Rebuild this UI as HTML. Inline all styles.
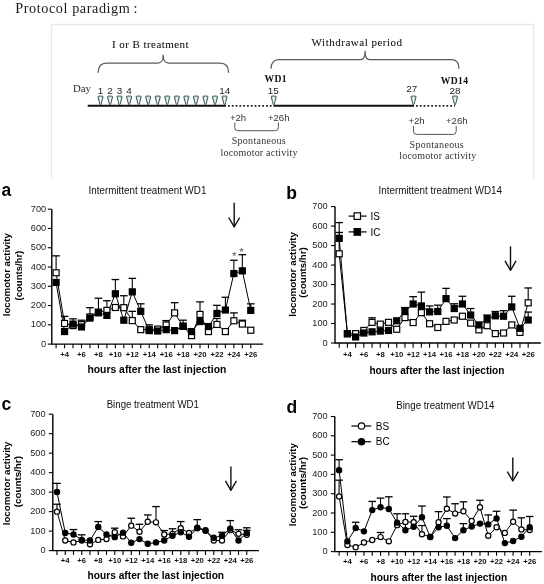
<!DOCTYPE html>
<html><head><meta charset="utf-8"><title>Protocol paradigm and locomotor activity</title>
<style>
html,body{margin:0;padding:0;background:#fff;}
body{width:544px;height:584px;overflow:hidden;font-family:"Liberation Sans", sans-serif;}
svg{display:block;filter:blur(0.3px);}
</style></head>
<body>
<svg width="544" height="584" viewBox="0 0 544 584">
<defs><linearGradient id="tg" x1="0" y1="0" x2="1" y2="0"><stop offset="0" stop-color="#9fbdbb"/><stop offset="0.5" stop-color="#eefbfa"/><stop offset="1" stop-color="#9fbdbb"/></linearGradient></defs>
<rect width="544" height="584" fill="#fff"/>
<text x="15.3" y="12.5" font-family='"Liberation Serif", serif' font-size="14.2" fill="#1a1a1a" textLength="114.5" lengthAdjust="spacing">Protocol paradigm</text>
<text x="133.6" y="12.5" font-family='"Liberation Serif", serif' font-size="14.2" fill="#1a1a1a">:</text>
<path d="M51.5,178 V24.5 H533.5 V178" fill="none" stroke="#e8e8e8" stroke-width="1.4"/>
<text x="112" y="48.1" font-family='"Liberation Serif", serif' font-size="11" fill="#111" stroke="#111" stroke-width="0.08" textLength="76.5" lengthAdjust="spacing">I or B treatment</text>
<text x="311.6" y="46.4" font-family='"Liberation Serif", serif' font-size="11" fill="#111" stroke="#111" stroke-width="0.08" textLength="90.5" lengthAdjust="spacing">Withdrawal period</text>
<path d="M98.2,72.8 C98.2,66.42999999999999 101.1155,63 106.53,63 L157.7,63 C161.2,63 163.2,61.5 163.2,54.8 C163.2,61.5 165.2,63 168.7,63 L220.27,63 C225.68449999999999,63 228.6,66.42999999999999 228.6,72.8" fill="none" stroke="#5a5a5a" stroke-width="1.25"/>
<path d="M271,68.8 C271,62.885 273.70725,59.7 278.735,59.7 L359.6,59.7 C363.1,59.7 365.1,58.2 365.1,50.8 C365.1,58.2 367.1,59.7 370.6,59.7 L451.265,59.7 C456.29275,59.7 459,62.885 459,68.8" fill="none" stroke="#5a5a5a" stroke-width="1.25"/>
<text x="73" y="92.4" font-family='"Liberation Serif", serif' font-size="10.8" fill="#2a2a2a">Day</text>
<line x1="87.7" y1="105.7" x2="226" y2="105.7" stroke="#111" stroke-width="2"/>
<line x1="228" y1="105.9" x2="273" y2="105.9" stroke="#222" stroke-width="1.8" stroke-dasharray="1.8 2"/>
<line x1="273.5" y1="105.7" x2="414" y2="105.7" stroke="#111" stroke-width="2"/>
<line x1="416" y1="105.9" x2="455" y2="105.9" stroke="#222" stroke-width="1.8" stroke-dasharray="1.8 2"/>
<path d="M97.95,96.9 Q97.95,96.1 98.70,96.1 H102.30 Q103.05,96.1 103.05,96.9 L100.95,104.6 H100.05 Z" fill="url(#tg)" stroke="#3f5856" stroke-width="1"/>
<path d="M107.49,96.9 Q107.49,96.1 108.24,96.1 H111.84 Q112.59,96.1 112.59,96.9 L110.49,104.6 H109.59 Z" fill="url(#tg)" stroke="#3f5856" stroke-width="1"/>
<path d="M117.03,96.9 Q117.03,96.1 117.78,96.1 H121.38 Q122.13,96.1 122.13,96.9 L120.03,104.6 H119.13 Z" fill="url(#tg)" stroke="#3f5856" stroke-width="1"/>
<path d="M126.57,96.9 Q126.57,96.1 127.32,96.1 H130.92 Q131.67,96.1 131.67,96.9 L129.57,104.6 H128.67 Z" fill="url(#tg)" stroke="#3f5856" stroke-width="1"/>
<path d="M136.11,96.9 Q136.11,96.1 136.86,96.1 H140.46 Q141.21,96.1 141.21,96.9 L139.11,104.6 H138.21 Z" fill="url(#tg)" stroke="#3f5856" stroke-width="1"/>
<path d="M145.65,96.9 Q145.65,96.1 146.40,96.1 H150.00 Q150.75,96.1 150.75,96.9 L148.65,104.6 H147.75 Z" fill="url(#tg)" stroke="#3f5856" stroke-width="1"/>
<path d="M155.19,96.9 Q155.19,96.1 155.94,96.1 H159.54 Q160.29,96.1 160.29,96.9 L158.19,104.6 H157.29 Z" fill="url(#tg)" stroke="#3f5856" stroke-width="1"/>
<path d="M164.73,96.9 Q164.73,96.1 165.48,96.1 H169.08 Q169.83,96.1 169.83,96.9 L167.73,104.6 H166.83 Z" fill="url(#tg)" stroke="#3f5856" stroke-width="1"/>
<path d="M174.27,96.9 Q174.27,96.1 175.02,96.1 H178.62 Q179.37,96.1 179.37,96.9 L177.27,104.6 H176.37 Z" fill="url(#tg)" stroke="#3f5856" stroke-width="1"/>
<path d="M183.81,96.9 Q183.81,96.1 184.56,96.1 H188.16 Q188.91,96.1 188.91,96.9 L186.81,104.6 H185.91 Z" fill="url(#tg)" stroke="#3f5856" stroke-width="1"/>
<path d="M193.35,96.9 Q193.35,96.1 194.10,96.1 H197.70 Q198.45,96.1 198.45,96.9 L196.35,104.6 H195.45 Z" fill="url(#tg)" stroke="#3f5856" stroke-width="1"/>
<path d="M202.89,96.9 Q202.89,96.1 203.64,96.1 H207.24 Q207.99,96.1 207.99,96.9 L205.89,104.6 H204.99 Z" fill="url(#tg)" stroke="#3f5856" stroke-width="1"/>
<path d="M212.43,96.9 Q212.43,96.1 213.18,96.1 H216.78 Q217.53,96.1 217.53,96.9 L215.43,104.6 H214.53 Z" fill="url(#tg)" stroke="#3f5856" stroke-width="1"/>
<path d="M221.97,96.9 Q221.97,96.1 222.72,96.1 H226.32 Q227.07,96.1 227.07,96.9 L224.97,104.6 H224.07 Z" fill="url(#tg)" stroke="#3f5856" stroke-width="1"/>
<path d="M271.15,96.9 Q271.15,96.1 271.90,96.1 H275.50 Q276.25,96.1 276.25,96.9 L274.15,104.6 H273.25 Z" fill="url(#tg)" stroke="#3f5856" stroke-width="1"/>
<path d="M410.95,96.9 Q410.95,96.1 411.70,96.1 H415.30 Q416.05,96.1 416.05,96.9 L413.95,104.6 H413.05 Z" fill="url(#tg)" stroke="#3f5856" stroke-width="1"/>
<path d="M452.45,96.9 Q452.45,96.1 453.20,96.1 H456.80 Q457.55,96.1 457.55,96.9 L455.45,104.6 H454.55 Z" fill="url(#tg)" stroke="#3f5856" stroke-width="1"/>
<text x="100.50" y="93.8" text-anchor="middle" font-family='"Liberation Sans", sans-serif' font-size="9.9" fill="#222">1</text>
<text x="110.04" y="93.8" text-anchor="middle" font-family='"Liberation Sans", sans-serif' font-size="9.9" fill="#222">2</text>
<text x="119.58" y="93.8" text-anchor="middle" font-family='"Liberation Sans", sans-serif' font-size="9.9" fill="#222">3</text>
<text x="129.12" y="93.8" text-anchor="middle" font-family='"Liberation Sans", sans-serif' font-size="9.9" fill="#222">4</text>
<text x="224.8" y="93.7" text-anchor="middle" font-family='"Liberation Sans", sans-serif' font-size="9.9" fill="#222">14</text>
<text x="273.3" y="93.7" text-anchor="middle" font-family='"Liberation Sans", sans-serif' font-size="9.9" fill="#222">15</text>
<text x="411.8" y="91.9" text-anchor="middle" font-family='"Liberation Sans", sans-serif' font-size="9.9" fill="#222">27</text>
<text x="455" y="93.7" text-anchor="middle" font-family='"Liberation Sans", sans-serif' font-size="9.9" fill="#222">28</text>
<text x="264.5" y="81.6" font-family='"Liberation Serif", serif' font-size="9.6" font-weight="bold" fill="#111" letter-spacing="0.4">WD1</text>
<text x="440.7" y="83.6" font-family='"Liberation Serif", serif' font-size="9.6" font-weight="bold" fill="#111" letter-spacing="0.4">WD14</text>
<text x="229.9" y="120.8" font-family='"Liberation Sans", sans-serif' font-size="9.6" fill="#333">+2h</text>
<text x="267.9" y="120.8" font-family='"Liberation Sans", sans-serif' font-size="9.6" fill="#333">+26h</text>
<path d="M234.8,122.5 V127.69999999999999 Q234.8,130.7 237.8,130.7 H275.4 Q278.4,130.7 278.4,127.69999999999999 V122.5" fill="none" stroke="#555" stroke-width="1"/>
<text x="258.7" y="143.8" text-anchor="middle" font-family='"Liberation Serif", serif' font-size="10" fill="#333" textLength="54" lengthAdjust="spacing">Spontaneous</text>
<text x="259" y="156.2" text-anchor="middle" font-family='"Liberation Serif", serif' font-size="10" fill="#333" textLength="77" lengthAdjust="spacing">locomotor activity</text>
<text x="408.4" y="123.8" font-family='"Liberation Sans", sans-serif' font-size="9.6" fill="#333">+2h</text>
<text x="446" y="123.8" font-family='"Liberation Sans", sans-serif' font-size="9.6" fill="#333">+26h</text>
<path d="M413.5,126 V131.4 Q413.5,134.4 416.5,134.4 H453.2 Q456.2,134.4 456.2,131.4 V126" fill="none" stroke="#555" stroke-width="1"/>
<text x="436.6" y="147.5" text-anchor="middle" font-family='"Liberation Serif", serif' font-size="10" fill="#333" textLength="54" lengthAdjust="spacing">Spontaneous</text>
<text x="437.8" y="159.1" text-anchor="middle" font-family='"Liberation Serif", serif' font-size="10" fill="#333" textLength="77" lengthAdjust="spacing">locomotor activity</text>
<text x="1.5" y="196.3" font-family='"Liberation Sans", sans-serif' font-size="17.5" font-weight="bold" fill="#000">a</text>
<text x="88.6" y="194.3" font-family='"Liberation Sans", sans-serif' font-size="10.2" fill="#111" textLength="117.8" lengthAdjust="spacingAndGlyphs">Intermittent treatment WD1</text>
<path d="M51.8,209.2 V344.1 H263.1" fill="none" stroke="#000" stroke-width="1.4"/>
<line x1="47.8" y1="344.10" x2="51.8" y2="344.10" stroke="#000" stroke-width="1.1"/>
<text x="46.199999999999996" y="346.75" text-anchor="end" font-family='"Liberation Sans", sans-serif' font-size="9.2" fill="#222">0</text>
<line x1="47.8" y1="324.83" x2="51.8" y2="324.83" stroke="#000" stroke-width="1.1"/>
<text x="46.199999999999996" y="327.48" text-anchor="end" font-family='"Liberation Sans", sans-serif' font-size="9.2" fill="#222">100</text>
<line x1="47.8" y1="305.56" x2="51.8" y2="305.56" stroke="#000" stroke-width="1.1"/>
<text x="46.199999999999996" y="308.21" text-anchor="end" font-family='"Liberation Sans", sans-serif' font-size="9.2" fill="#222">200</text>
<line x1="47.8" y1="286.29" x2="51.8" y2="286.29" stroke="#000" stroke-width="1.1"/>
<text x="46.199999999999996" y="288.94" text-anchor="end" font-family='"Liberation Sans", sans-serif' font-size="9.2" fill="#222">300</text>
<line x1="47.8" y1="267.01" x2="51.8" y2="267.01" stroke="#000" stroke-width="1.1"/>
<text x="46.199999999999996" y="269.66" text-anchor="end" font-family='"Liberation Sans", sans-serif' font-size="9.2" fill="#222">400</text>
<line x1="47.8" y1="247.74" x2="51.8" y2="247.74" stroke="#000" stroke-width="1.1"/>
<text x="46.199999999999996" y="250.39" text-anchor="end" font-family='"Liberation Sans", sans-serif' font-size="9.2" fill="#222">500</text>
<line x1="47.8" y1="228.47" x2="51.8" y2="228.47" stroke="#000" stroke-width="1.1"/>
<text x="46.199999999999996" y="231.12" text-anchor="end" font-family='"Liberation Sans", sans-serif' font-size="9.2" fill="#222">600</text>
<line x1="47.8" y1="209.20" x2="51.8" y2="209.20" stroke="#000" stroke-width="1.1"/>
<text x="46.199999999999996" y="211.85" text-anchor="end" font-family='"Liberation Sans", sans-serif' font-size="9.2" fill="#222">700</text>
<line x1="56.10" y1="344.1" x2="56.10" y2="348.3" stroke="#000" stroke-width="1.1"/>
<line x1="64.56" y1="344.1" x2="64.56" y2="348.3" stroke="#000" stroke-width="1.1"/>
<text x="64.56" y="356.70" text-anchor="middle" font-family='"Liberation Sans", sans-serif' font-size="7.7" font-weight="bold" fill="#111">+4</text>
<line x1="73.03" y1="344.1" x2="73.03" y2="348.3" stroke="#000" stroke-width="1.1"/>
<line x1="81.50" y1="344.1" x2="81.50" y2="348.3" stroke="#000" stroke-width="1.1"/>
<text x="81.50" y="356.70" text-anchor="middle" font-family='"Liberation Sans", sans-serif' font-size="7.7" font-weight="bold" fill="#111">+6</text>
<line x1="89.96" y1="344.1" x2="89.96" y2="348.3" stroke="#000" stroke-width="1.1"/>
<line x1="98.43" y1="344.1" x2="98.43" y2="348.3" stroke="#000" stroke-width="1.1"/>
<text x="98.43" y="356.70" text-anchor="middle" font-family='"Liberation Sans", sans-serif' font-size="7.7" font-weight="bold" fill="#111">+8</text>
<line x1="106.89" y1="344.1" x2="106.89" y2="348.3" stroke="#000" stroke-width="1.1"/>
<line x1="115.35" y1="344.1" x2="115.35" y2="348.3" stroke="#000" stroke-width="1.1"/>
<text x="115.35" y="356.70" text-anchor="middle" font-family='"Liberation Sans", sans-serif' font-size="7.7" font-weight="bold" fill="#111">+10</text>
<line x1="123.82" y1="344.1" x2="123.82" y2="348.3" stroke="#000" stroke-width="1.1"/>
<line x1="132.28" y1="344.1" x2="132.28" y2="348.3" stroke="#000" stroke-width="1.1"/>
<text x="132.28" y="356.70" text-anchor="middle" font-family='"Liberation Sans", sans-serif' font-size="7.7" font-weight="bold" fill="#111">+12</text>
<line x1="140.75" y1="344.1" x2="140.75" y2="348.3" stroke="#000" stroke-width="1.1"/>
<line x1="149.22" y1="344.1" x2="149.22" y2="348.3" stroke="#000" stroke-width="1.1"/>
<text x="149.22" y="356.70" text-anchor="middle" font-family='"Liberation Sans", sans-serif' font-size="7.7" font-weight="bold" fill="#111">+14</text>
<line x1="157.68" y1="344.1" x2="157.68" y2="348.3" stroke="#000" stroke-width="1.1"/>
<line x1="166.15" y1="344.1" x2="166.15" y2="348.3" stroke="#000" stroke-width="1.1"/>
<text x="166.15" y="356.70" text-anchor="middle" font-family='"Liberation Sans", sans-serif' font-size="7.7" font-weight="bold" fill="#111">+16</text>
<line x1="174.61" y1="344.1" x2="174.61" y2="348.3" stroke="#000" stroke-width="1.1"/>
<line x1="183.07" y1="344.1" x2="183.07" y2="348.3" stroke="#000" stroke-width="1.1"/>
<text x="183.07" y="356.70" text-anchor="middle" font-family='"Liberation Sans", sans-serif' font-size="7.7" font-weight="bold" fill="#111">+18</text>
<line x1="191.54" y1="344.1" x2="191.54" y2="348.3" stroke="#000" stroke-width="1.1"/>
<line x1="200.00" y1="344.1" x2="200.00" y2="348.3" stroke="#000" stroke-width="1.1"/>
<text x="200.00" y="356.70" text-anchor="middle" font-family='"Liberation Sans", sans-serif' font-size="7.7" font-weight="bold" fill="#111">+20</text>
<line x1="208.47" y1="344.1" x2="208.47" y2="348.3" stroke="#000" stroke-width="1.1"/>
<line x1="216.94" y1="344.1" x2="216.94" y2="348.3" stroke="#000" stroke-width="1.1"/>
<text x="216.94" y="356.70" text-anchor="middle" font-family='"Liberation Sans", sans-serif' font-size="7.7" font-weight="bold" fill="#111">+22</text>
<line x1="225.40" y1="344.1" x2="225.40" y2="348.3" stroke="#000" stroke-width="1.1"/>
<line x1="233.86" y1="344.1" x2="233.86" y2="348.3" stroke="#000" stroke-width="1.1"/>
<text x="233.86" y="356.70" text-anchor="middle" font-family='"Liberation Sans", sans-serif' font-size="7.7" font-weight="bold" fill="#111">+24</text>
<line x1="242.33" y1="344.1" x2="242.33" y2="348.3" stroke="#000" stroke-width="1.1"/>
<line x1="250.79" y1="344.1" x2="250.79" y2="348.3" stroke="#000" stroke-width="1.1"/>
<text x="250.79" y="356.70" text-anchor="middle" font-family='"Liberation Sans", sans-serif' font-size="7.7" font-weight="bold" fill="#111">+26</text>
<text x="87.4" y="373.2" font-family='"Liberation Sans", sans-serif' font-size="10.4" font-weight="bold" fill="#000" textLength="139" lengthAdjust="spacingAndGlyphs">hours after the last injection</text>
<text transform="translate(9.6,274.7) rotate(-90)" text-anchor="middle" font-family='"Liberation Sans", sans-serif' font-size="9.6" font-weight="bold" fill="#000" textLength="83" lengthAdjust="spacingAndGlyphs">locomotor activity</text>
<text transform="translate(21.8,275.6) rotate(-90)" text-anchor="middle" font-family='"Liberation Sans", sans-serif' font-size="9.6" font-weight="bold" fill="#000" textLength="49.8" lengthAdjust="spacingAndGlyphs">(counts/hr)</text>
<line x1="234.2" y1="202.8" x2="234.2" y2="226.7" stroke="#111" stroke-width="1.4"/>
<path d="M228.7,217.5 L234.2,226.89999999999998 L239.7,217.5" fill="none" stroke="#111" stroke-width="1.4" stroke-linejoin="round"/>
<polyline points="56.10,272.80 64.56,323.48 73.03,325.60 81.50,324.64 89.96,316.93 98.43,312.11 106.89,310.38 115.35,307.48 123.82,307.68 132.28,320.59 140.75,329.65 149.22,329.65 157.68,329.07 166.15,325.02 174.61,312.88 183.07,326.37 191.54,335.62 200.00,314.42 208.47,331.57 216.94,324.44 225.40,331.57 233.86,320.78 242.33,324.06 250.79,330.22" fill="none" stroke="#000" stroke-width="1"/>
<polyline points="56.10,282.43 64.56,331.57 73.03,324.06 81.50,326.95 89.96,318.08 98.43,312.88 106.89,315.39 115.35,293.80 123.82,320.20 132.28,291.87 140.75,311.34 149.22,330.61 157.68,331.00 166.15,329.65 174.61,330.61 183.07,326.18 191.54,331.57 200.00,321.55 208.47,326.56 216.94,313.46 225.40,309.99 233.86,273.57 242.33,270.87 250.79,310.38" fill="none" stroke="#000" stroke-width="1"/>
<line x1="56.10" y1="272.80" x2="56.10" y2="255.84" stroke="#000" stroke-width="1.1"/>
<line x1="52.30" y1="255.84" x2="59.90" y2="255.84" stroke="#000" stroke-width="1.3"/>
<line x1="64.56" y1="323.48" x2="64.56" y2="316.35" stroke="#000" stroke-width="1.1"/>
<line x1="60.77" y1="316.35" x2="68.36" y2="316.35" stroke="#000" stroke-width="1.3"/>
<line x1="73.03" y1="325.60" x2="73.03" y2="318.85" stroke="#000" stroke-width="1.1"/>
<line x1="69.23" y1="318.85" x2="76.83" y2="318.85" stroke="#000" stroke-width="1.3"/>
<line x1="81.50" y1="324.64" x2="81.50" y2="320.20" stroke="#000" stroke-width="1.1"/>
<line x1="77.70" y1="320.20" x2="85.30" y2="320.20" stroke="#000" stroke-width="1.3"/>
<line x1="89.96" y1="316.93" x2="89.96" y2="307.68" stroke="#000" stroke-width="1.1"/>
<line x1="86.16" y1="307.68" x2="93.76" y2="307.68" stroke="#000" stroke-width="1.3"/>
<line x1="98.43" y1="312.11" x2="98.43" y2="298.23" stroke="#000" stroke-width="1.1"/>
<line x1="94.63" y1="298.23" x2="102.23" y2="298.23" stroke="#000" stroke-width="1.3"/>
<line x1="106.89" y1="310.38" x2="106.89" y2="300.74" stroke="#000" stroke-width="1.1"/>
<line x1="103.09" y1="300.74" x2="110.69" y2="300.74" stroke="#000" stroke-width="1.3"/>
<line x1="123.82" y1="307.68" x2="123.82" y2="295.73" stroke="#000" stroke-width="1.1"/>
<line x1="120.02" y1="295.73" x2="127.62" y2="295.73" stroke="#000" stroke-width="1.3"/>
<line x1="132.28" y1="320.59" x2="132.28" y2="311.34" stroke="#000" stroke-width="1.1"/>
<line x1="128.48" y1="311.34" x2="136.09" y2="311.34" stroke="#000" stroke-width="1.3"/>
<line x1="166.15" y1="325.02" x2="166.15" y2="320.59" stroke="#000" stroke-width="1.1"/>
<line x1="162.34" y1="320.59" x2="169.95" y2="320.59" stroke="#000" stroke-width="1.3"/>
<line x1="174.61" y1="312.88" x2="174.61" y2="302.67" stroke="#000" stroke-width="1.1"/>
<line x1="170.81" y1="302.67" x2="178.41" y2="302.67" stroke="#000" stroke-width="1.3"/>
<line x1="183.07" y1="326.37" x2="183.07" y2="320.20" stroke="#000" stroke-width="1.1"/>
<line x1="179.27" y1="320.20" x2="186.88" y2="320.20" stroke="#000" stroke-width="1.3"/>
<line x1="200.00" y1="314.42" x2="200.00" y2="301.90" stroke="#000" stroke-width="1.1"/>
<line x1="196.20" y1="301.90" x2="203.81" y2="301.90" stroke="#000" stroke-width="1.3"/>
<line x1="216.94" y1="324.44" x2="216.94" y2="318.47" stroke="#000" stroke-width="1.1"/>
<line x1="213.13" y1="318.47" x2="220.74" y2="318.47" stroke="#000" stroke-width="1.3"/>
<line x1="233.86" y1="320.78" x2="233.86" y2="312.88" stroke="#000" stroke-width="1.1"/>
<line x1="230.06" y1="312.88" x2="237.66" y2="312.88" stroke="#000" stroke-width="1.3"/>
<line x1="242.33" y1="324.06" x2="242.33" y2="320.20" stroke="#000" stroke-width="1.1"/>
<line x1="238.53" y1="320.20" x2="246.13" y2="320.20" stroke="#000" stroke-width="1.3"/>
<line x1="115.35" y1="293.80" x2="115.35" y2="279.54" stroke="#000" stroke-width="1.1"/>
<line x1="111.55" y1="279.54" x2="119.15" y2="279.54" stroke="#000" stroke-width="1.3"/>
<line x1="132.28" y1="291.87" x2="132.28" y2="278.38" stroke="#000" stroke-width="1.1"/>
<line x1="128.48" y1="278.38" x2="136.09" y2="278.38" stroke="#000" stroke-width="1.3"/>
<line x1="140.75" y1="311.34" x2="140.75" y2="303.82" stroke="#000" stroke-width="1.1"/>
<line x1="136.95" y1="303.82" x2="144.55" y2="303.82" stroke="#000" stroke-width="1.3"/>
<line x1="149.22" y1="330.61" x2="149.22" y2="324.83" stroke="#000" stroke-width="1.1"/>
<line x1="145.41" y1="324.83" x2="153.02" y2="324.83" stroke="#000" stroke-width="1.3"/>
<line x1="216.94" y1="313.46" x2="216.94" y2="305.36" stroke="#000" stroke-width="1.1"/>
<line x1="213.13" y1="305.36" x2="220.74" y2="305.36" stroke="#000" stroke-width="1.3"/>
<line x1="225.40" y1="309.99" x2="225.40" y2="297.27" stroke="#000" stroke-width="1.1"/>
<line x1="221.60" y1="297.27" x2="229.20" y2="297.27" stroke="#000" stroke-width="1.3"/>
<line x1="233.86" y1="273.57" x2="233.86" y2="260.27" stroke="#000" stroke-width="1.1"/>
<line x1="230.06" y1="260.27" x2="237.66" y2="260.27" stroke="#000" stroke-width="1.3"/>
<line x1="242.33" y1="270.87" x2="242.33" y2="254.68" stroke="#000" stroke-width="1.1"/>
<line x1="238.53" y1="254.68" x2="246.13" y2="254.68" stroke="#000" stroke-width="1.3"/>
<line x1="250.79" y1="310.38" x2="250.79" y2="303.82" stroke="#000" stroke-width="1.1"/>
<line x1="246.99" y1="303.82" x2="254.59" y2="303.82" stroke="#000" stroke-width="1.3"/>
<rect x="53.10" y="269.80" width="6.0" height="6.0" fill="#fff" stroke="#000" stroke-width="1.2"/>
<rect x="61.56" y="320.48" width="6.0" height="6.0" fill="#fff" stroke="#000" stroke-width="1.2"/>
<rect x="70.03" y="322.60" width="6.0" height="6.0" fill="#fff" stroke="#000" stroke-width="1.2"/>
<rect x="78.50" y="321.64" width="6.0" height="6.0" fill="#fff" stroke="#000" stroke-width="1.2"/>
<rect x="86.96" y="313.93" width="6.0" height="6.0" fill="#fff" stroke="#000" stroke-width="1.2"/>
<rect x="95.43" y="309.11" width="6.0" height="6.0" fill="#fff" stroke="#000" stroke-width="1.2"/>
<rect x="103.89" y="307.38" width="6.0" height="6.0" fill="#fff" stroke="#000" stroke-width="1.2"/>
<rect x="112.35" y="304.48" width="6.0" height="6.0" fill="#fff" stroke="#000" stroke-width="1.2"/>
<rect x="120.82" y="304.68" width="6.0" height="6.0" fill="#fff" stroke="#000" stroke-width="1.2"/>
<rect x="129.28" y="317.59" width="6.0" height="6.0" fill="#fff" stroke="#000" stroke-width="1.2"/>
<rect x="137.75" y="326.65" width="6.0" height="6.0" fill="#fff" stroke="#000" stroke-width="1.2"/>
<rect x="146.22" y="326.65" width="6.0" height="6.0" fill="#fff" stroke="#000" stroke-width="1.2"/>
<rect x="154.68" y="326.07" width="6.0" height="6.0" fill="#fff" stroke="#000" stroke-width="1.2"/>
<rect x="163.15" y="322.02" width="6.0" height="6.0" fill="#fff" stroke="#000" stroke-width="1.2"/>
<rect x="171.61" y="309.88" width="6.0" height="6.0" fill="#fff" stroke="#000" stroke-width="1.2"/>
<rect x="180.07" y="323.37" width="6.0" height="6.0" fill="#fff" stroke="#000" stroke-width="1.2"/>
<rect x="188.54" y="332.62" width="6.0" height="6.0" fill="#fff" stroke="#000" stroke-width="1.2"/>
<rect x="197.00" y="311.42" width="6.0" height="6.0" fill="#fff" stroke="#000" stroke-width="1.2"/>
<rect x="205.47" y="328.57" width="6.0" height="6.0" fill="#fff" stroke="#000" stroke-width="1.2"/>
<rect x="213.94" y="321.44" width="6.0" height="6.0" fill="#fff" stroke="#000" stroke-width="1.2"/>
<rect x="222.40" y="328.57" width="6.0" height="6.0" fill="#fff" stroke="#000" stroke-width="1.2"/>
<rect x="230.86" y="317.78" width="6.0" height="6.0" fill="#fff" stroke="#000" stroke-width="1.2"/>
<rect x="239.33" y="321.06" width="6.0" height="6.0" fill="#fff" stroke="#000" stroke-width="1.2"/>
<rect x="247.79" y="327.22" width="6.0" height="6.0" fill="#fff" stroke="#000" stroke-width="1.2"/>
<rect x="53.10" y="279.43" width="6.0" height="6.0" fill="#000" stroke="#000" stroke-width="1.2"/>
<rect x="61.56" y="328.57" width="6.0" height="6.0" fill="#000" stroke="#000" stroke-width="1.2"/>
<rect x="70.03" y="321.06" width="6.0" height="6.0" fill="#000" stroke="#000" stroke-width="1.2"/>
<rect x="78.50" y="323.95" width="6.0" height="6.0" fill="#000" stroke="#000" stroke-width="1.2"/>
<rect x="86.96" y="315.08" width="6.0" height="6.0" fill="#000" stroke="#000" stroke-width="1.2"/>
<rect x="95.43" y="309.88" width="6.0" height="6.0" fill="#000" stroke="#000" stroke-width="1.2"/>
<rect x="103.89" y="312.39" width="6.0" height="6.0" fill="#000" stroke="#000" stroke-width="1.2"/>
<rect x="112.35" y="290.80" width="6.0" height="6.0" fill="#000" stroke="#000" stroke-width="1.2"/>
<rect x="120.82" y="317.20" width="6.0" height="6.0" fill="#000" stroke="#000" stroke-width="1.2"/>
<rect x="129.28" y="288.87" width="6.0" height="6.0" fill="#000" stroke="#000" stroke-width="1.2"/>
<rect x="137.75" y="308.34" width="6.0" height="6.0" fill="#000" stroke="#000" stroke-width="1.2"/>
<rect x="146.22" y="327.61" width="6.0" height="6.0" fill="#000" stroke="#000" stroke-width="1.2"/>
<rect x="154.68" y="328.00" width="6.0" height="6.0" fill="#000" stroke="#000" stroke-width="1.2"/>
<rect x="163.15" y="326.65" width="6.0" height="6.0" fill="#000" stroke="#000" stroke-width="1.2"/>
<rect x="171.61" y="327.61" width="6.0" height="6.0" fill="#000" stroke="#000" stroke-width="1.2"/>
<rect x="180.07" y="323.18" width="6.0" height="6.0" fill="#000" stroke="#000" stroke-width="1.2"/>
<rect x="188.54" y="328.57" width="6.0" height="6.0" fill="#000" stroke="#000" stroke-width="1.2"/>
<rect x="197.00" y="318.55" width="6.0" height="6.0" fill="#000" stroke="#000" stroke-width="1.2"/>
<rect x="205.47" y="323.56" width="6.0" height="6.0" fill="#000" stroke="#000" stroke-width="1.2"/>
<rect x="213.94" y="310.46" width="6.0" height="6.0" fill="#000" stroke="#000" stroke-width="1.2"/>
<rect x="222.40" y="306.99" width="6.0" height="6.0" fill="#000" stroke="#000" stroke-width="1.2"/>
<rect x="230.86" y="270.57" width="6.0" height="6.0" fill="#000" stroke="#000" stroke-width="1.2"/>
<rect x="239.33" y="267.87" width="6.0" height="6.0" fill="#000" stroke="#000" stroke-width="1.2"/>
<rect x="247.79" y="307.38" width="6.0" height="6.0" fill="#000" stroke="#000" stroke-width="1.2"/>
<text x="234.2" y="260.4" text-anchor="middle" font-family='"Liberation Sans", sans-serif' font-size="11.5" fill="#555">*</text>
<text x="241.6" y="255.8" text-anchor="middle" font-family='"Liberation Sans", sans-serif' font-size="11.5" fill="#555">*</text>
<text x="286.2" y="198.8" font-family='"Liberation Sans", sans-serif' font-size="17.5" font-weight="bold" fill="#000">b</text>
<text x="378.6" y="194.3" font-family='"Liberation Sans", sans-serif' font-size="10.2" fill="#111" textLength="123.4" lengthAdjust="spacingAndGlyphs">Intermittent treatment WD14</text>
<path d="M335,206.6 V343 H540.8" fill="none" stroke="#000" stroke-width="1.4"/>
<line x1="331" y1="343.00" x2="335" y2="343.00" stroke="#000" stroke-width="1.1"/>
<text x="327.7" y="345.65" text-anchor="end" font-family='"Liberation Sans", sans-serif' font-size="9.2" fill="#222">0</text>
<line x1="331" y1="323.51" x2="335" y2="323.51" stroke="#000" stroke-width="1.1"/>
<text x="327.7" y="326.16" text-anchor="end" font-family='"Liberation Sans", sans-serif' font-size="9.2" fill="#222">100</text>
<line x1="331" y1="304.03" x2="335" y2="304.03" stroke="#000" stroke-width="1.1"/>
<text x="327.7" y="306.68" text-anchor="end" font-family='"Liberation Sans", sans-serif' font-size="9.2" fill="#222">200</text>
<line x1="331" y1="284.54" x2="335" y2="284.54" stroke="#000" stroke-width="1.1"/>
<text x="327.7" y="287.19" text-anchor="end" font-family='"Liberation Sans", sans-serif' font-size="9.2" fill="#222">300</text>
<line x1="331" y1="265.06" x2="335" y2="265.06" stroke="#000" stroke-width="1.1"/>
<text x="327.7" y="267.71" text-anchor="end" font-family='"Liberation Sans", sans-serif' font-size="9.2" fill="#222">400</text>
<line x1="331" y1="245.57" x2="335" y2="245.57" stroke="#000" stroke-width="1.1"/>
<text x="327.7" y="248.22" text-anchor="end" font-family='"Liberation Sans", sans-serif' font-size="9.2" fill="#222">500</text>
<line x1="331" y1="226.09" x2="335" y2="226.09" stroke="#000" stroke-width="1.1"/>
<text x="327.7" y="228.74" text-anchor="end" font-family='"Liberation Sans", sans-serif' font-size="9.2" fill="#222">600</text>
<line x1="331" y1="206.60" x2="335" y2="206.60" stroke="#000" stroke-width="1.1"/>
<text x="327.7" y="209.25" text-anchor="end" font-family='"Liberation Sans", sans-serif' font-size="9.2" fill="#222">700</text>
<line x1="339.20" y1="343" x2="339.20" y2="347.8" stroke="#000" stroke-width="1.1"/>
<line x1="347.42" y1="343" x2="347.42" y2="347.8" stroke="#000" stroke-width="1.1"/>
<text x="347.42" y="357.20" text-anchor="middle" font-family='"Liberation Sans", sans-serif' font-size="7.7" font-weight="bold" fill="#111">+4</text>
<line x1="355.63" y1="343" x2="355.63" y2="347.8" stroke="#000" stroke-width="1.1"/>
<line x1="363.85" y1="343" x2="363.85" y2="347.8" stroke="#000" stroke-width="1.1"/>
<text x="363.85" y="357.20" text-anchor="middle" font-family='"Liberation Sans", sans-serif' font-size="7.7" font-weight="bold" fill="#111">+6</text>
<line x1="372.07" y1="343" x2="372.07" y2="347.8" stroke="#000" stroke-width="1.1"/>
<line x1="380.28" y1="343" x2="380.28" y2="347.8" stroke="#000" stroke-width="1.1"/>
<text x="380.28" y="357.20" text-anchor="middle" font-family='"Liberation Sans", sans-serif' font-size="7.7" font-weight="bold" fill="#111">+8</text>
<line x1="388.50" y1="343" x2="388.50" y2="347.8" stroke="#000" stroke-width="1.1"/>
<line x1="396.72" y1="343" x2="396.72" y2="347.8" stroke="#000" stroke-width="1.1"/>
<text x="396.72" y="357.20" text-anchor="middle" font-family='"Liberation Sans", sans-serif' font-size="7.7" font-weight="bold" fill="#111">+10</text>
<line x1="404.94" y1="343" x2="404.94" y2="347.8" stroke="#000" stroke-width="1.1"/>
<line x1="413.15" y1="343" x2="413.15" y2="347.8" stroke="#000" stroke-width="1.1"/>
<text x="413.15" y="357.20" text-anchor="middle" font-family='"Liberation Sans", sans-serif' font-size="7.7" font-weight="bold" fill="#111">+12</text>
<line x1="421.37" y1="343" x2="421.37" y2="347.8" stroke="#000" stroke-width="1.1"/>
<line x1="429.59" y1="343" x2="429.59" y2="347.8" stroke="#000" stroke-width="1.1"/>
<text x="429.59" y="357.20" text-anchor="middle" font-family='"Liberation Sans", sans-serif' font-size="7.7" font-weight="bold" fill="#111">+14</text>
<line x1="437.80" y1="343" x2="437.80" y2="347.8" stroke="#000" stroke-width="1.1"/>
<line x1="446.02" y1="343" x2="446.02" y2="347.8" stroke="#000" stroke-width="1.1"/>
<text x="446.02" y="357.20" text-anchor="middle" font-family='"Liberation Sans", sans-serif' font-size="7.7" font-weight="bold" fill="#111">+16</text>
<line x1="454.24" y1="343" x2="454.24" y2="347.8" stroke="#000" stroke-width="1.1"/>
<line x1="462.45" y1="343" x2="462.45" y2="347.8" stroke="#000" stroke-width="1.1"/>
<text x="462.45" y="357.20" text-anchor="middle" font-family='"Liberation Sans", sans-serif' font-size="7.7" font-weight="bold" fill="#111">+18</text>
<line x1="470.67" y1="343" x2="470.67" y2="347.8" stroke="#000" stroke-width="1.1"/>
<line x1="478.89" y1="343" x2="478.89" y2="347.8" stroke="#000" stroke-width="1.1"/>
<text x="478.89" y="357.20" text-anchor="middle" font-family='"Liberation Sans", sans-serif' font-size="7.7" font-weight="bold" fill="#111">+20</text>
<line x1="487.11" y1="343" x2="487.11" y2="347.8" stroke="#000" stroke-width="1.1"/>
<line x1="495.32" y1="343" x2="495.32" y2="347.8" stroke="#000" stroke-width="1.1"/>
<text x="495.32" y="357.20" text-anchor="middle" font-family='"Liberation Sans", sans-serif' font-size="7.7" font-weight="bold" fill="#111">+22</text>
<line x1="503.54" y1="343" x2="503.54" y2="347.8" stroke="#000" stroke-width="1.1"/>
<line x1="511.76" y1="343" x2="511.76" y2="347.8" stroke="#000" stroke-width="1.1"/>
<text x="511.76" y="357.20" text-anchor="middle" font-family='"Liberation Sans", sans-serif' font-size="7.7" font-weight="bold" fill="#111">+24</text>
<line x1="519.97" y1="343" x2="519.97" y2="347.8" stroke="#000" stroke-width="1.1"/>
<line x1="528.19" y1="343" x2="528.19" y2="347.8" stroke="#000" stroke-width="1.1"/>
<text x="528.19" y="357.20" text-anchor="middle" font-family='"Liberation Sans", sans-serif' font-size="7.7" font-weight="bold" fill="#111">+26</text>
<text x="369.4" y="373.6" font-family='"Liberation Sans", sans-serif' font-size="10.4" font-weight="bold" fill="#000" textLength="135" lengthAdjust="spacingAndGlyphs">hours after the last injection</text>
<text transform="translate(296,274.3) rotate(-90)" text-anchor="middle" font-family='"Liberation Sans", sans-serif' font-size="9.6" font-weight="bold" fill="#000" textLength="84.8" lengthAdjust="spacingAndGlyphs">locomotor activity</text>
<text transform="translate(306.4,272.5) rotate(-90)" text-anchor="middle" font-family='"Liberation Sans", sans-serif' font-size="9.6" font-weight="bold" fill="#000" textLength="50.4" lengthAdjust="spacingAndGlyphs">(counts/hr)</text>
<line x1="510.5" y1="246.3" x2="510.5" y2="270.1" stroke="#111" stroke-width="1.4"/>
<path d="M505.0,260.90000000000003 L510.5,270.3 L516.0,260.90000000000003" fill="none" stroke="#111" stroke-width="1.4" stroke-linejoin="round"/>
<polyline points="339.20,253.79 347.42,333.82 355.63,333.62 363.85,330.46 372.07,322.36 380.28,324.13 388.50,322.36 396.72,329.27 404.94,317.61 413.15,322.55 421.37,312.67 429.59,323.74 437.80,327.49 446.02,321.37 454.24,319.99 462.45,316.23 470.67,323.15 478.89,329.86 487.11,325.72 495.32,333.62 503.54,333.03 511.76,324.93 519.97,332.43 528.19,302.80" fill="none" stroke="#000" stroke-width="1"/>
<polyline points="339.20,238.38 347.42,333.62 355.63,336.98 363.85,333.03 372.07,331.84 380.28,331.05 388.50,330.46 396.72,320.78 404.94,311.29 413.15,303.98 421.37,305.96 429.59,311.88 437.80,311.49 446.02,298.65 454.24,308.53 462.45,303.98 470.67,315.05 478.89,324.93 487.11,318.80 495.32,315.84 503.54,316.23 511.76,306.94 519.97,328.28 528.19,319.99" fill="none" stroke="#000" stroke-width="1"/>
<line x1="339.20" y1="253.79" x2="339.20" y2="232.46" stroke="#000" stroke-width="1.1"/>
<line x1="335.40" y1="232.46" x2="343.00" y2="232.46" stroke="#000" stroke-width="1.3"/>
<line x1="372.07" y1="322.36" x2="372.07" y2="317.81" stroke="#000" stroke-width="1.1"/>
<line x1="368.27" y1="317.81" x2="375.87" y2="317.81" stroke="#000" stroke-width="1.3"/>
<line x1="528.19" y1="302.80" x2="528.19" y2="287.98" stroke="#000" stroke-width="1.1"/>
<line x1="524.39" y1="287.98" x2="531.99" y2="287.98" stroke="#000" stroke-width="1.3"/>
<line x1="339.20" y1="238.38" x2="339.20" y2="222.58" stroke="#000" stroke-width="1.1"/>
<line x1="335.40" y1="222.58" x2="343.00" y2="222.58" stroke="#000" stroke-width="1.3"/>
<line x1="404.94" y1="311.29" x2="404.94" y2="307.54" stroke="#000" stroke-width="1.1"/>
<line x1="401.14" y1="307.54" x2="408.74" y2="307.54" stroke="#000" stroke-width="1.3"/>
<line x1="413.15" y1="303.98" x2="413.15" y2="296.67" stroke="#000" stroke-width="1.1"/>
<line x1="409.35" y1="296.67" x2="416.95" y2="296.67" stroke="#000" stroke-width="1.3"/>
<line x1="421.37" y1="305.96" x2="421.37" y2="292.13" stroke="#000" stroke-width="1.1"/>
<line x1="417.57" y1="292.13" x2="425.17" y2="292.13" stroke="#000" stroke-width="1.3"/>
<line x1="429.59" y1="311.88" x2="429.59" y2="305.96" stroke="#000" stroke-width="1.1"/>
<line x1="425.79" y1="305.96" x2="433.39" y2="305.96" stroke="#000" stroke-width="1.3"/>
<line x1="437.80" y1="311.49" x2="437.80" y2="305.17" stroke="#000" stroke-width="1.1"/>
<line x1="434.00" y1="305.17" x2="441.60" y2="305.17" stroke="#000" stroke-width="1.3"/>
<line x1="446.02" y1="298.65" x2="446.02" y2="288.37" stroke="#000" stroke-width="1.1"/>
<line x1="442.22" y1="288.37" x2="449.82" y2="288.37" stroke="#000" stroke-width="1.3"/>
<line x1="454.24" y1="308.53" x2="454.24" y2="303.78" stroke="#000" stroke-width="1.1"/>
<line x1="450.44" y1="303.78" x2="458.04" y2="303.78" stroke="#000" stroke-width="1.3"/>
<line x1="462.45" y1="303.98" x2="462.45" y2="296.28" stroke="#000" stroke-width="1.1"/>
<line x1="458.65" y1="296.28" x2="466.25" y2="296.28" stroke="#000" stroke-width="1.3"/>
<line x1="470.67" y1="315.05" x2="470.67" y2="308.53" stroke="#000" stroke-width="1.1"/>
<line x1="466.87" y1="308.53" x2="474.47" y2="308.53" stroke="#000" stroke-width="1.3"/>
<line x1="487.11" y1="318.80" x2="487.11" y2="315.05" stroke="#000" stroke-width="1.1"/>
<line x1="483.31" y1="315.05" x2="490.91" y2="315.05" stroke="#000" stroke-width="1.3"/>
<line x1="495.32" y1="315.84" x2="495.32" y2="311.49" stroke="#000" stroke-width="1.1"/>
<line x1="491.52" y1="311.49" x2="499.12" y2="311.49" stroke="#000" stroke-width="1.3"/>
<line x1="503.54" y1="316.23" x2="503.54" y2="310.70" stroke="#000" stroke-width="1.1"/>
<line x1="499.74" y1="310.70" x2="507.34" y2="310.70" stroke="#000" stroke-width="1.3"/>
<line x1="511.76" y1="306.94" x2="511.76" y2="296.28" stroke="#000" stroke-width="1.1"/>
<line x1="507.96" y1="296.28" x2="515.56" y2="296.28" stroke="#000" stroke-width="1.3"/>
<line x1="528.19" y1="319.99" x2="528.19" y2="312.08" stroke="#000" stroke-width="1.1"/>
<line x1="524.39" y1="312.08" x2="531.99" y2="312.08" stroke="#000" stroke-width="1.3"/>
<rect x="336.20" y="250.79" width="6.0" height="6.0" fill="#fff" stroke="#000" stroke-width="1.2"/>
<rect x="344.42" y="330.82" width="6.0" height="6.0" fill="#fff" stroke="#000" stroke-width="1.2"/>
<rect x="352.63" y="330.62" width="6.0" height="6.0" fill="#fff" stroke="#000" stroke-width="1.2"/>
<rect x="360.85" y="327.46" width="6.0" height="6.0" fill="#fff" stroke="#000" stroke-width="1.2"/>
<rect x="369.07" y="319.36" width="6.0" height="6.0" fill="#fff" stroke="#000" stroke-width="1.2"/>
<rect x="377.28" y="321.13" width="6.0" height="6.0" fill="#fff" stroke="#000" stroke-width="1.2"/>
<rect x="385.50" y="319.36" width="6.0" height="6.0" fill="#fff" stroke="#000" stroke-width="1.2"/>
<rect x="393.72" y="326.27" width="6.0" height="6.0" fill="#fff" stroke="#000" stroke-width="1.2"/>
<rect x="401.94" y="314.61" width="6.0" height="6.0" fill="#fff" stroke="#000" stroke-width="1.2"/>
<rect x="410.15" y="319.55" width="6.0" height="6.0" fill="#fff" stroke="#000" stroke-width="1.2"/>
<rect x="418.37" y="309.67" width="6.0" height="6.0" fill="#fff" stroke="#000" stroke-width="1.2"/>
<rect x="426.59" y="320.74" width="6.0" height="6.0" fill="#fff" stroke="#000" stroke-width="1.2"/>
<rect x="434.80" y="324.49" width="6.0" height="6.0" fill="#fff" stroke="#000" stroke-width="1.2"/>
<rect x="443.02" y="318.37" width="6.0" height="6.0" fill="#fff" stroke="#000" stroke-width="1.2"/>
<rect x="451.24" y="316.99" width="6.0" height="6.0" fill="#fff" stroke="#000" stroke-width="1.2"/>
<rect x="459.45" y="313.23" width="6.0" height="6.0" fill="#fff" stroke="#000" stroke-width="1.2"/>
<rect x="467.67" y="320.15" width="6.0" height="6.0" fill="#fff" stroke="#000" stroke-width="1.2"/>
<rect x="475.89" y="326.86" width="6.0" height="6.0" fill="#fff" stroke="#000" stroke-width="1.2"/>
<rect x="484.11" y="322.72" width="6.0" height="6.0" fill="#fff" stroke="#000" stroke-width="1.2"/>
<rect x="492.32" y="330.62" width="6.0" height="6.0" fill="#fff" stroke="#000" stroke-width="1.2"/>
<rect x="500.54" y="330.03" width="6.0" height="6.0" fill="#fff" stroke="#000" stroke-width="1.2"/>
<rect x="508.76" y="321.93" width="6.0" height="6.0" fill="#fff" stroke="#000" stroke-width="1.2"/>
<rect x="516.97" y="329.43" width="6.0" height="6.0" fill="#fff" stroke="#000" stroke-width="1.2"/>
<rect x="525.19" y="299.80" width="6.0" height="6.0" fill="#fff" stroke="#000" stroke-width="1.2"/>
<rect x="336.20" y="235.38" width="6.0" height="6.0" fill="#000" stroke="#000" stroke-width="1.2"/>
<rect x="344.42" y="330.62" width="6.0" height="6.0" fill="#000" stroke="#000" stroke-width="1.2"/>
<rect x="352.63" y="333.98" width="6.0" height="6.0" fill="#000" stroke="#000" stroke-width="1.2"/>
<rect x="360.85" y="330.03" width="6.0" height="6.0" fill="#000" stroke="#000" stroke-width="1.2"/>
<rect x="369.07" y="328.84" width="6.0" height="6.0" fill="#000" stroke="#000" stroke-width="1.2"/>
<rect x="377.28" y="328.05" width="6.0" height="6.0" fill="#000" stroke="#000" stroke-width="1.2"/>
<rect x="385.50" y="327.46" width="6.0" height="6.0" fill="#000" stroke="#000" stroke-width="1.2"/>
<rect x="393.72" y="317.78" width="6.0" height="6.0" fill="#000" stroke="#000" stroke-width="1.2"/>
<rect x="401.94" y="308.29" width="6.0" height="6.0" fill="#000" stroke="#000" stroke-width="1.2"/>
<rect x="410.15" y="300.98" width="6.0" height="6.0" fill="#000" stroke="#000" stroke-width="1.2"/>
<rect x="418.37" y="302.96" width="6.0" height="6.0" fill="#000" stroke="#000" stroke-width="1.2"/>
<rect x="426.59" y="308.88" width="6.0" height="6.0" fill="#000" stroke="#000" stroke-width="1.2"/>
<rect x="434.80" y="308.49" width="6.0" height="6.0" fill="#000" stroke="#000" stroke-width="1.2"/>
<rect x="443.02" y="295.65" width="6.0" height="6.0" fill="#000" stroke="#000" stroke-width="1.2"/>
<rect x="451.24" y="305.53" width="6.0" height="6.0" fill="#000" stroke="#000" stroke-width="1.2"/>
<rect x="459.45" y="300.98" width="6.0" height="6.0" fill="#000" stroke="#000" stroke-width="1.2"/>
<rect x="467.67" y="312.05" width="6.0" height="6.0" fill="#000" stroke="#000" stroke-width="1.2"/>
<rect x="475.89" y="321.93" width="6.0" height="6.0" fill="#000" stroke="#000" stroke-width="1.2"/>
<rect x="484.11" y="315.80" width="6.0" height="6.0" fill="#000" stroke="#000" stroke-width="1.2"/>
<rect x="492.32" y="312.84" width="6.0" height="6.0" fill="#000" stroke="#000" stroke-width="1.2"/>
<rect x="500.54" y="313.23" width="6.0" height="6.0" fill="#000" stroke="#000" stroke-width="1.2"/>
<rect x="508.76" y="303.94" width="6.0" height="6.0" fill="#000" stroke="#000" stroke-width="1.2"/>
<rect x="516.97" y="325.28" width="6.0" height="6.0" fill="#000" stroke="#000" stroke-width="1.2"/>
<rect x="525.19" y="316.99" width="6.0" height="6.0" fill="#000" stroke="#000" stroke-width="1.2"/>
<line x1="348.7" y1="216.1" x2="366.6" y2="216.1" stroke="#000" stroke-width="1.2"/>
<rect x="354.1" y="212.79999999999998" width="6.4" height="6.6" fill="#fff" stroke="#000" stroke-width="1.2"/>
<text x="370.5" y="219.7" font-family='"Liberation Sans", sans-serif' font-size="10" fill="#000">IS</text>
<line x1="348.7" y1="231.9" x2="366.6" y2="231.9" stroke="#000" stroke-width="1.2"/>
<rect x="354.1" y="228.6" width="6.4" height="6.6" fill="#000" stroke="#000" stroke-width="1.2"/>
<text x="370.5" y="235.5" font-family='"Liberation Sans", sans-serif' font-size="10" fill="#000">IC</text>
<text x="1.5" y="410.2" font-family='"Liberation Sans", sans-serif' font-size="17.5" font-weight="bold" fill="#000">c</text>
<text x="106.7" y="408.2" font-family='"Liberation Sans", sans-serif' font-size="10.2" fill="#111" textLength="92.2" lengthAdjust="spacingAndGlyphs">Binge treatment WD1</text>
<path d="M52.8,414.2 V550.6 H259" fill="none" stroke="#000" stroke-width="1.4"/>
<line x1="48.8" y1="550.60" x2="52.8" y2="550.60" stroke="#000" stroke-width="1.1"/>
<text x="45.5" y="553.25" text-anchor="end" font-family='"Liberation Sans", sans-serif' font-size="9.2" fill="#222">0</text>
<line x1="48.8" y1="531.11" x2="52.8" y2="531.11" stroke="#000" stroke-width="1.1"/>
<text x="45.5" y="533.76" text-anchor="end" font-family='"Liberation Sans", sans-serif' font-size="9.2" fill="#222">100</text>
<line x1="48.8" y1="511.63" x2="52.8" y2="511.63" stroke="#000" stroke-width="1.1"/>
<text x="45.5" y="514.28" text-anchor="end" font-family='"Liberation Sans", sans-serif' font-size="9.2" fill="#222">200</text>
<line x1="48.8" y1="492.14" x2="52.8" y2="492.14" stroke="#000" stroke-width="1.1"/>
<text x="45.5" y="494.79" text-anchor="end" font-family='"Liberation Sans", sans-serif' font-size="9.2" fill="#222">300</text>
<line x1="48.8" y1="472.66" x2="52.8" y2="472.66" stroke="#000" stroke-width="1.1"/>
<text x="45.5" y="475.31" text-anchor="end" font-family='"Liberation Sans", sans-serif' font-size="9.2" fill="#222">400</text>
<line x1="48.8" y1="453.17" x2="52.8" y2="453.17" stroke="#000" stroke-width="1.1"/>
<text x="45.5" y="455.82" text-anchor="end" font-family='"Liberation Sans", sans-serif' font-size="9.2" fill="#222">500</text>
<line x1="48.8" y1="433.69" x2="52.8" y2="433.69" stroke="#000" stroke-width="1.1"/>
<text x="45.5" y="436.34" text-anchor="end" font-family='"Liberation Sans", sans-serif' font-size="9.2" fill="#222">600</text>
<line x1="48.8" y1="414.20" x2="52.8" y2="414.20" stroke="#000" stroke-width="1.1"/>
<text x="45.5" y="416.85" text-anchor="end" font-family='"Liberation Sans", sans-serif' font-size="9.2" fill="#222">700</text>
<line x1="57.00" y1="550.6" x2="57.00" y2="554.9" stroke="#000" stroke-width="1.1"/>
<line x1="65.25" y1="550.6" x2="65.25" y2="554.9" stroke="#000" stroke-width="1.1"/>
<text x="65.25" y="562.50" text-anchor="middle" font-family='"Liberation Sans", sans-serif' font-size="7.7" font-weight="bold" fill="#111">+4</text>
<line x1="73.50" y1="550.6" x2="73.50" y2="554.9" stroke="#000" stroke-width="1.1"/>
<line x1="81.75" y1="550.6" x2="81.75" y2="554.9" stroke="#000" stroke-width="1.1"/>
<text x="81.75" y="562.50" text-anchor="middle" font-family='"Liberation Sans", sans-serif' font-size="7.7" font-weight="bold" fill="#111">+6</text>
<line x1="90.00" y1="550.6" x2="90.00" y2="554.9" stroke="#000" stroke-width="1.1"/>
<line x1="98.25" y1="550.6" x2="98.25" y2="554.9" stroke="#000" stroke-width="1.1"/>
<text x="98.25" y="562.50" text-anchor="middle" font-family='"Liberation Sans", sans-serif' font-size="7.7" font-weight="bold" fill="#111">+8</text>
<line x1="106.50" y1="550.6" x2="106.50" y2="554.9" stroke="#000" stroke-width="1.1"/>
<line x1="114.75" y1="550.6" x2="114.75" y2="554.9" stroke="#000" stroke-width="1.1"/>
<text x="114.75" y="562.50" text-anchor="middle" font-family='"Liberation Sans", sans-serif' font-size="7.7" font-weight="bold" fill="#111">+10</text>
<line x1="123.00" y1="550.6" x2="123.00" y2="554.9" stroke="#000" stroke-width="1.1"/>
<line x1="131.25" y1="550.6" x2="131.25" y2="554.9" stroke="#000" stroke-width="1.1"/>
<text x="131.25" y="562.50" text-anchor="middle" font-family='"Liberation Sans", sans-serif' font-size="7.7" font-weight="bold" fill="#111">+12</text>
<line x1="139.50" y1="550.6" x2="139.50" y2="554.9" stroke="#000" stroke-width="1.1"/>
<line x1="147.75" y1="550.6" x2="147.75" y2="554.9" stroke="#000" stroke-width="1.1"/>
<text x="147.75" y="562.50" text-anchor="middle" font-family='"Liberation Sans", sans-serif' font-size="7.7" font-weight="bold" fill="#111">+14</text>
<line x1="156.00" y1="550.6" x2="156.00" y2="554.9" stroke="#000" stroke-width="1.1"/>
<line x1="164.25" y1="550.6" x2="164.25" y2="554.9" stroke="#000" stroke-width="1.1"/>
<text x="164.25" y="562.50" text-anchor="middle" font-family='"Liberation Sans", sans-serif' font-size="7.7" font-weight="bold" fill="#111">+16</text>
<line x1="172.50" y1="550.6" x2="172.50" y2="554.9" stroke="#000" stroke-width="1.1"/>
<line x1="180.75" y1="550.6" x2="180.75" y2="554.9" stroke="#000" stroke-width="1.1"/>
<text x="180.75" y="562.50" text-anchor="middle" font-family='"Liberation Sans", sans-serif' font-size="7.7" font-weight="bold" fill="#111">+18</text>
<line x1="189.00" y1="550.6" x2="189.00" y2="554.9" stroke="#000" stroke-width="1.1"/>
<line x1="197.25" y1="550.6" x2="197.25" y2="554.9" stroke="#000" stroke-width="1.1"/>
<text x="197.25" y="562.50" text-anchor="middle" font-family='"Liberation Sans", sans-serif' font-size="7.7" font-weight="bold" fill="#111">+20</text>
<line x1="205.50" y1="550.6" x2="205.50" y2="554.9" stroke="#000" stroke-width="1.1"/>
<line x1="213.75" y1="550.6" x2="213.75" y2="554.9" stroke="#000" stroke-width="1.1"/>
<text x="213.75" y="562.50" text-anchor="middle" font-family='"Liberation Sans", sans-serif' font-size="7.7" font-weight="bold" fill="#111">+22</text>
<line x1="222.00" y1="550.6" x2="222.00" y2="554.9" stroke="#000" stroke-width="1.1"/>
<line x1="230.25" y1="550.6" x2="230.25" y2="554.9" stroke="#000" stroke-width="1.1"/>
<text x="230.25" y="562.50" text-anchor="middle" font-family='"Liberation Sans", sans-serif' font-size="7.7" font-weight="bold" fill="#111">+24</text>
<line x1="238.50" y1="550.6" x2="238.50" y2="554.9" stroke="#000" stroke-width="1.1"/>
<line x1="246.75" y1="550.6" x2="246.75" y2="554.9" stroke="#000" stroke-width="1.1"/>
<text x="246.75" y="562.50" text-anchor="middle" font-family='"Liberation Sans", sans-serif' font-size="7.7" font-weight="bold" fill="#111">+26</text>
<text x="87.5" y="578.8" font-family='"Liberation Sans", sans-serif' font-size="10.4" font-weight="bold" fill="#000" textLength="136.6" lengthAdjust="spacingAndGlyphs">hours after the last injection</text>
<text transform="translate(10.4,483.4) rotate(-90)" text-anchor="middle" font-family='"Liberation Sans", sans-serif' font-size="9.6" font-weight="bold" fill="#000" textLength="83.8" lengthAdjust="spacingAndGlyphs">locomotor activity</text>
<text transform="translate(20.8,481.7) rotate(-90)" text-anchor="middle" font-family='"Liberation Sans", sans-serif' font-size="9.6" font-weight="bold" fill="#000" textLength="51.3" lengthAdjust="spacingAndGlyphs">(counts/hr)</text>
<line x1="230.9" y1="466.4" x2="230.9" y2="490.1" stroke="#111" stroke-width="1.4"/>
<path d="M225.4,480.90000000000003 L230.9,490.3 L236.4,480.90000000000003" fill="none" stroke="#111" stroke-width="1.4" stroke-linejoin="round"/>
<polyline points="57.00,511.63 65.25,540.47 73.50,542.42 81.75,540.47 90.00,544.36 98.25,539.88 106.50,539.10 114.75,532.28 123.00,536.38 131.25,525.66 139.50,531.70 147.75,521.76 156.00,522.35 164.25,534.43 172.50,533.84 180.75,528.19 189.00,533.06 197.25,527.61 205.50,530.14 213.75,540.47 222.00,540.47 230.25,530.14 238.50,533.84 246.75,534.82" fill="none" stroke="#000" stroke-width="1"/>
<polyline points="57.00,491.95 65.25,533.06 73.50,534.43 81.75,539.88 90.00,540.47 98.25,527.02 106.50,534.43 114.75,537.15 123.00,532.67 131.25,542.81 139.50,539.10 147.75,543.78 156.00,542.42 164.25,540.47 172.50,535.79 180.75,532.28 189.00,536.77 197.25,528.19 205.50,530.72 213.75,537.74 222.00,535.79 230.25,528.58 238.50,540.47 246.75,533.06" fill="none" stroke="#000" stroke-width="1"/>
<line x1="57.00" y1="511.63" x2="57.00" y2="504.22" stroke="#000" stroke-width="1.1"/>
<line x1="53.20" y1="504.22" x2="60.80" y2="504.22" stroke="#000" stroke-width="1.3"/>
<line x1="114.75" y1="532.28" x2="114.75" y2="528.19" stroke="#000" stroke-width="1.1"/>
<line x1="110.95" y1="528.19" x2="118.55" y2="528.19" stroke="#000" stroke-width="1.3"/>
<line x1="131.25" y1="525.66" x2="131.25" y2="518.25" stroke="#000" stroke-width="1.1"/>
<line x1="127.45" y1="518.25" x2="135.05" y2="518.25" stroke="#000" stroke-width="1.3"/>
<line x1="139.50" y1="531.70" x2="139.50" y2="524.29" stroke="#000" stroke-width="1.1"/>
<line x1="135.70" y1="524.29" x2="143.30" y2="524.29" stroke="#000" stroke-width="1.3"/>
<line x1="147.75" y1="521.76" x2="147.75" y2="514.94" stroke="#000" stroke-width="1.1"/>
<line x1="143.95" y1="514.94" x2="151.55" y2="514.94" stroke="#000" stroke-width="1.3"/>
<line x1="156.00" y1="522.35" x2="156.00" y2="506.56" stroke="#000" stroke-width="1.1"/>
<line x1="152.20" y1="506.56" x2="159.80" y2="506.56" stroke="#000" stroke-width="1.3"/>
<line x1="172.50" y1="533.84" x2="172.50" y2="528.78" stroke="#000" stroke-width="1.1"/>
<line x1="168.70" y1="528.78" x2="176.30" y2="528.78" stroke="#000" stroke-width="1.3"/>
<line x1="180.75" y1="528.19" x2="180.75" y2="521.57" stroke="#000" stroke-width="1.1"/>
<line x1="176.95" y1="521.57" x2="184.55" y2="521.57" stroke="#000" stroke-width="1.3"/>
<line x1="197.25" y1="527.61" x2="197.25" y2="519.62" stroke="#000" stroke-width="1.1"/>
<line x1="193.45" y1="519.62" x2="201.05" y2="519.62" stroke="#000" stroke-width="1.3"/>
<line x1="222.00" y1="540.47" x2="222.00" y2="532.28" stroke="#000" stroke-width="1.1"/>
<line x1="218.20" y1="532.28" x2="225.80" y2="532.28" stroke="#000" stroke-width="1.3"/>
<line x1="238.50" y1="533.84" x2="238.50" y2="529.75" stroke="#000" stroke-width="1.1"/>
<line x1="234.70" y1="529.75" x2="242.30" y2="529.75" stroke="#000" stroke-width="1.3"/>
<line x1="246.75" y1="534.82" x2="246.75" y2="530.33" stroke="#000" stroke-width="1.1"/>
<line x1="242.95" y1="530.33" x2="250.55" y2="530.33" stroke="#000" stroke-width="1.3"/>
<line x1="57.00" y1="491.95" x2="57.00" y2="483.37" stroke="#000" stroke-width="1.1"/>
<line x1="53.20" y1="483.37" x2="60.80" y2="483.37" stroke="#000" stroke-width="1.3"/>
<line x1="73.50" y1="534.43" x2="73.50" y2="529.56" stroke="#000" stroke-width="1.1"/>
<line x1="69.70" y1="529.56" x2="77.30" y2="529.56" stroke="#000" stroke-width="1.3"/>
<line x1="81.75" y1="539.88" x2="81.75" y2="534.82" stroke="#000" stroke-width="1.1"/>
<line x1="77.95" y1="534.82" x2="85.55" y2="534.82" stroke="#000" stroke-width="1.3"/>
<line x1="98.25" y1="527.02" x2="98.25" y2="521.57" stroke="#000" stroke-width="1.1"/>
<line x1="94.45" y1="521.57" x2="102.05" y2="521.57" stroke="#000" stroke-width="1.3"/>
<line x1="164.25" y1="540.47" x2="164.25" y2="530.53" stroke="#000" stroke-width="1.1"/>
<line x1="160.45" y1="530.53" x2="168.05" y2="530.53" stroke="#000" stroke-width="1.3"/>
<line x1="230.25" y1="528.58" x2="230.25" y2="520.59" stroke="#000" stroke-width="1.1"/>
<line x1="226.45" y1="520.59" x2="234.05" y2="520.59" stroke="#000" stroke-width="1.3"/>
<line x1="246.75" y1="533.06" x2="246.75" y2="527.80" stroke="#000" stroke-width="1.1"/>
<line x1="242.95" y1="527.80" x2="250.55" y2="527.80" stroke="#000" stroke-width="1.3"/>
<circle cx="57.00" cy="511.63" r="2.6" fill="#fff" stroke="#000" stroke-width="1.2"/>
<circle cx="65.25" cy="540.47" r="2.6" fill="#fff" stroke="#000" stroke-width="1.2"/>
<circle cx="73.50" cy="542.42" r="2.6" fill="#fff" stroke="#000" stroke-width="1.2"/>
<circle cx="81.75" cy="540.47" r="2.6" fill="#fff" stroke="#000" stroke-width="1.2"/>
<circle cx="90.00" cy="544.36" r="2.6" fill="#fff" stroke="#000" stroke-width="1.2"/>
<circle cx="98.25" cy="539.88" r="2.6" fill="#fff" stroke="#000" stroke-width="1.2"/>
<circle cx="106.50" cy="539.10" r="2.6" fill="#fff" stroke="#000" stroke-width="1.2"/>
<circle cx="114.75" cy="532.28" r="2.6" fill="#fff" stroke="#000" stroke-width="1.2"/>
<circle cx="123.00" cy="536.38" r="2.6" fill="#fff" stroke="#000" stroke-width="1.2"/>
<circle cx="131.25" cy="525.66" r="2.6" fill="#fff" stroke="#000" stroke-width="1.2"/>
<circle cx="139.50" cy="531.70" r="2.6" fill="#fff" stroke="#000" stroke-width="1.2"/>
<circle cx="147.75" cy="521.76" r="2.6" fill="#fff" stroke="#000" stroke-width="1.2"/>
<circle cx="156.00" cy="522.35" r="2.6" fill="#fff" stroke="#000" stroke-width="1.2"/>
<circle cx="164.25" cy="534.43" r="2.6" fill="#fff" stroke="#000" stroke-width="1.2"/>
<circle cx="172.50" cy="533.84" r="2.6" fill="#fff" stroke="#000" stroke-width="1.2"/>
<circle cx="180.75" cy="528.19" r="2.6" fill="#fff" stroke="#000" stroke-width="1.2"/>
<circle cx="189.00" cy="533.06" r="2.6" fill="#fff" stroke="#000" stroke-width="1.2"/>
<circle cx="197.25" cy="527.61" r="2.6" fill="#fff" stroke="#000" stroke-width="1.2"/>
<circle cx="205.50" cy="530.14" r="2.6" fill="#fff" stroke="#000" stroke-width="1.2"/>
<circle cx="213.75" cy="540.47" r="2.6" fill="#fff" stroke="#000" stroke-width="1.2"/>
<circle cx="222.00" cy="540.47" r="2.6" fill="#fff" stroke="#000" stroke-width="1.2"/>
<circle cx="230.25" cy="530.14" r="2.6" fill="#fff" stroke="#000" stroke-width="1.2"/>
<circle cx="238.50" cy="533.84" r="2.6" fill="#fff" stroke="#000" stroke-width="1.2"/>
<circle cx="246.75" cy="534.82" r="2.6" fill="#fff" stroke="#000" stroke-width="1.2"/>
<circle cx="57.00" cy="491.95" r="2.6" fill="#000" stroke="#000" stroke-width="1.2"/>
<circle cx="65.25" cy="533.06" r="2.6" fill="#000" stroke="#000" stroke-width="1.2"/>
<circle cx="73.50" cy="534.43" r="2.6" fill="#000" stroke="#000" stroke-width="1.2"/>
<circle cx="81.75" cy="539.88" r="2.6" fill="#000" stroke="#000" stroke-width="1.2"/>
<circle cx="90.00" cy="540.47" r="2.6" fill="#000" stroke="#000" stroke-width="1.2"/>
<circle cx="98.25" cy="527.02" r="2.6" fill="#000" stroke="#000" stroke-width="1.2"/>
<circle cx="106.50" cy="534.43" r="2.6" fill="#000" stroke="#000" stroke-width="1.2"/>
<circle cx="114.75" cy="537.15" r="2.6" fill="#000" stroke="#000" stroke-width="1.2"/>
<circle cx="123.00" cy="532.67" r="2.6" fill="#000" stroke="#000" stroke-width="1.2"/>
<circle cx="131.25" cy="542.81" r="2.6" fill="#000" stroke="#000" stroke-width="1.2"/>
<circle cx="139.50" cy="539.10" r="2.6" fill="#000" stroke="#000" stroke-width="1.2"/>
<circle cx="147.75" cy="543.78" r="2.6" fill="#000" stroke="#000" stroke-width="1.2"/>
<circle cx="156.00" cy="542.42" r="2.6" fill="#000" stroke="#000" stroke-width="1.2"/>
<circle cx="164.25" cy="540.47" r="2.6" fill="#000" stroke="#000" stroke-width="1.2"/>
<circle cx="172.50" cy="535.79" r="2.6" fill="#000" stroke="#000" stroke-width="1.2"/>
<circle cx="180.75" cy="532.28" r="2.6" fill="#000" stroke="#000" stroke-width="1.2"/>
<circle cx="189.00" cy="536.77" r="2.6" fill="#000" stroke="#000" stroke-width="1.2"/>
<circle cx="197.25" cy="528.19" r="2.6" fill="#000" stroke="#000" stroke-width="1.2"/>
<circle cx="205.50" cy="530.72" r="2.6" fill="#000" stroke="#000" stroke-width="1.2"/>
<circle cx="213.75" cy="537.74" r="2.6" fill="#000" stroke="#000" stroke-width="1.2"/>
<circle cx="222.00" cy="535.79" r="2.6" fill="#000" stroke="#000" stroke-width="1.2"/>
<circle cx="230.25" cy="528.58" r="2.6" fill="#000" stroke="#000" stroke-width="1.2"/>
<circle cx="238.50" cy="540.47" r="2.6" fill="#000" stroke="#000" stroke-width="1.2"/>
<circle cx="246.75" cy="533.06" r="2.6" fill="#000" stroke="#000" stroke-width="1.2"/>
<text x="286.5" y="413" font-family='"Liberation Sans", sans-serif' font-size="17.5" font-weight="bold" fill="#000">d</text>
<text x="396.2" y="408.8" font-family='"Liberation Sans", sans-serif' font-size="10.2" fill="#111" textLength="98.3" lengthAdjust="spacingAndGlyphs">Binge treatment WD14</text>
<path d="M334.8,416.5 V551.6 H541.9" fill="none" stroke="#000" stroke-width="1.4"/>
<line x1="330.8" y1="551.60" x2="334.8" y2="551.60" stroke="#000" stroke-width="1.1"/>
<text x="327.5" y="554.25" text-anchor="end" font-family='"Liberation Sans", sans-serif' font-size="9.2" fill="#222">0</text>
<line x1="330.8" y1="532.30" x2="334.8" y2="532.30" stroke="#000" stroke-width="1.1"/>
<text x="327.5" y="534.95" text-anchor="end" font-family='"Liberation Sans", sans-serif' font-size="9.2" fill="#222">100</text>
<line x1="330.8" y1="513.00" x2="334.8" y2="513.00" stroke="#000" stroke-width="1.1"/>
<text x="327.5" y="515.65" text-anchor="end" font-family='"Liberation Sans", sans-serif' font-size="9.2" fill="#222">200</text>
<line x1="330.8" y1="493.70" x2="334.8" y2="493.70" stroke="#000" stroke-width="1.1"/>
<text x="327.5" y="496.35" text-anchor="end" font-family='"Liberation Sans", sans-serif' font-size="9.2" fill="#222">300</text>
<line x1="330.8" y1="474.40" x2="334.8" y2="474.40" stroke="#000" stroke-width="1.1"/>
<text x="327.5" y="477.05" text-anchor="end" font-family='"Liberation Sans", sans-serif' font-size="9.2" fill="#222">400</text>
<line x1="330.8" y1="455.10" x2="334.8" y2="455.10" stroke="#000" stroke-width="1.1"/>
<text x="327.5" y="457.75" text-anchor="end" font-family='"Liberation Sans", sans-serif' font-size="9.2" fill="#222">500</text>
<line x1="330.8" y1="435.80" x2="334.8" y2="435.80" stroke="#000" stroke-width="1.1"/>
<text x="327.5" y="438.45" text-anchor="end" font-family='"Liberation Sans", sans-serif' font-size="9.2" fill="#222">600</text>
<line x1="330.8" y1="416.50" x2="334.8" y2="416.50" stroke="#000" stroke-width="1.1"/>
<text x="327.5" y="419.15" text-anchor="end" font-family='"Liberation Sans", sans-serif' font-size="9.2" fill="#222">700</text>
<line x1="339.10" y1="551.6" x2="339.10" y2="555.8000000000001" stroke="#000" stroke-width="1.1"/>
<line x1="347.39" y1="551.6" x2="347.39" y2="555.8000000000001" stroke="#000" stroke-width="1.1"/>
<text x="347.39" y="563.50" text-anchor="middle" font-family='"Liberation Sans", sans-serif' font-size="7.7" font-weight="bold" fill="#111">+4</text>
<line x1="355.67" y1="551.6" x2="355.67" y2="555.8000000000001" stroke="#000" stroke-width="1.1"/>
<line x1="363.96" y1="551.6" x2="363.96" y2="555.8000000000001" stroke="#000" stroke-width="1.1"/>
<text x="363.96" y="563.50" text-anchor="middle" font-family='"Liberation Sans", sans-serif' font-size="7.7" font-weight="bold" fill="#111">+6</text>
<line x1="372.25" y1="551.6" x2="372.25" y2="555.8000000000001" stroke="#000" stroke-width="1.1"/>
<line x1="380.54" y1="551.6" x2="380.54" y2="555.8000000000001" stroke="#000" stroke-width="1.1"/>
<text x="380.54" y="563.50" text-anchor="middle" font-family='"Liberation Sans", sans-serif' font-size="7.7" font-weight="bold" fill="#111">+8</text>
<line x1="388.82" y1="551.6" x2="388.82" y2="555.8000000000001" stroke="#000" stroke-width="1.1"/>
<line x1="397.11" y1="551.6" x2="397.11" y2="555.8000000000001" stroke="#000" stroke-width="1.1"/>
<text x="397.11" y="563.50" text-anchor="middle" font-family='"Liberation Sans", sans-serif' font-size="7.7" font-weight="bold" fill="#111">+10</text>
<line x1="405.40" y1="551.6" x2="405.40" y2="555.8000000000001" stroke="#000" stroke-width="1.1"/>
<line x1="413.68" y1="551.6" x2="413.68" y2="555.8000000000001" stroke="#000" stroke-width="1.1"/>
<text x="413.68" y="563.50" text-anchor="middle" font-family='"Liberation Sans", sans-serif' font-size="7.7" font-weight="bold" fill="#111">+12</text>
<line x1="421.97" y1="551.6" x2="421.97" y2="555.8000000000001" stroke="#000" stroke-width="1.1"/>
<line x1="430.26" y1="551.6" x2="430.26" y2="555.8000000000001" stroke="#000" stroke-width="1.1"/>
<text x="430.26" y="563.50" text-anchor="middle" font-family='"Liberation Sans", sans-serif' font-size="7.7" font-weight="bold" fill="#111">+14</text>
<line x1="438.54" y1="551.6" x2="438.54" y2="555.8000000000001" stroke="#000" stroke-width="1.1"/>
<line x1="446.83" y1="551.6" x2="446.83" y2="555.8000000000001" stroke="#000" stroke-width="1.1"/>
<text x="446.83" y="563.50" text-anchor="middle" font-family='"Liberation Sans", sans-serif' font-size="7.7" font-weight="bold" fill="#111">+16</text>
<line x1="455.12" y1="551.6" x2="455.12" y2="555.8000000000001" stroke="#000" stroke-width="1.1"/>
<line x1="463.41" y1="551.6" x2="463.41" y2="555.8000000000001" stroke="#000" stroke-width="1.1"/>
<text x="463.41" y="563.50" text-anchor="middle" font-family='"Liberation Sans", sans-serif' font-size="7.7" font-weight="bold" fill="#111">+18</text>
<line x1="471.69" y1="551.6" x2="471.69" y2="555.8000000000001" stroke="#000" stroke-width="1.1"/>
<line x1="479.98" y1="551.6" x2="479.98" y2="555.8000000000001" stroke="#000" stroke-width="1.1"/>
<text x="479.98" y="563.50" text-anchor="middle" font-family='"Liberation Sans", sans-serif' font-size="7.7" font-weight="bold" fill="#111">+20</text>
<line x1="488.27" y1="551.6" x2="488.27" y2="555.8000000000001" stroke="#000" stroke-width="1.1"/>
<line x1="496.55" y1="551.6" x2="496.55" y2="555.8000000000001" stroke="#000" stroke-width="1.1"/>
<text x="496.55" y="563.50" text-anchor="middle" font-family='"Liberation Sans", sans-serif' font-size="7.7" font-weight="bold" fill="#111">+22</text>
<line x1="504.84" y1="551.6" x2="504.84" y2="555.8000000000001" stroke="#000" stroke-width="1.1"/>
<line x1="513.13" y1="551.6" x2="513.13" y2="555.8000000000001" stroke="#000" stroke-width="1.1"/>
<text x="513.13" y="563.50" text-anchor="middle" font-family='"Liberation Sans", sans-serif' font-size="7.7" font-weight="bold" fill="#111">+24</text>
<line x1="521.41" y1="551.6" x2="521.41" y2="555.8000000000001" stroke="#000" stroke-width="1.1"/>
<line x1="529.70" y1="551.6" x2="529.70" y2="555.8000000000001" stroke="#000" stroke-width="1.1"/>
<text x="529.70" y="563.50" text-anchor="middle" font-family='"Liberation Sans", sans-serif' font-size="7.7" font-weight="bold" fill="#111">+26</text>
<text x="370.6" y="580.6" font-family='"Liberation Sans", sans-serif' font-size="10.4" font-weight="bold" fill="#000" textLength="136.6" lengthAdjust="spacingAndGlyphs">hours after the last injection</text>
<text transform="translate(296,484.7) rotate(-90)" text-anchor="middle" font-family='"Liberation Sans", sans-serif' font-size="9.6" font-weight="bold" fill="#000" textLength="83" lengthAdjust="spacingAndGlyphs">locomotor activity</text>
<text transform="translate(306.4,483) rotate(-90)" text-anchor="middle" font-family='"Liberation Sans", sans-serif' font-size="9.6" font-weight="bold" fill="#000" textLength="52.1" lengthAdjust="spacingAndGlyphs">(counts/hr)</text>
<line x1="512.8" y1="457.4" x2="512.8" y2="480.8" stroke="#111" stroke-width="1.4"/>
<path d="M507.29999999999995,471.6 L512.8,481.0 L518.3,471.6" fill="none" stroke="#111" stroke-width="1.4" stroke-linejoin="round"/>
<polyline points="339.10,496.40 347.39,545.04 355.67,547.16 363.96,542.53 372.25,540.02 380.54,537.12 388.82,541.37 397.11,525.16 405.40,521.88 413.68,522.26 421.97,534.23 430.26,536.93 438.54,522.26 446.83,508.75 455.12,513.58 463.41,511.26 471.69,520.91 479.98,507.21 488.27,535.77 496.55,527.28 504.84,532.88 513.13,521.69 521.41,529.40 529.70,529.98" fill="none" stroke="#000" stroke-width="1"/>
<polyline points="339.10,470.15 347.39,541.37 355.67,528.05 363.96,531.34 372.25,510.11 380.54,507.21 388.82,508.95 397.11,522.65 405.40,530.18 413.68,526.70 421.97,517.25 430.26,536.93 438.54,527.28 446.83,525.74 455.12,538.09 463.41,530.18 471.69,526.51 479.98,523.62 488.27,524.39 496.55,518.40 504.84,543.11 513.13,540.99 521.41,536.74 529.70,527.28" fill="none" stroke="#000" stroke-width="1"/>
<line x1="339.10" y1="496.40" x2="339.10" y2="480.19" stroke="#000" stroke-width="1.1"/>
<line x1="335.30" y1="480.19" x2="342.90" y2="480.19" stroke="#000" stroke-width="1.3"/>
<line x1="380.54" y1="537.12" x2="380.54" y2="532.49" stroke="#000" stroke-width="1.1"/>
<line x1="376.74" y1="532.49" x2="384.34" y2="532.49" stroke="#000" stroke-width="1.3"/>
<line x1="421.97" y1="534.23" x2="421.97" y2="525.55" stroke="#000" stroke-width="1.1"/>
<line x1="418.17" y1="525.55" x2="425.77" y2="525.55" stroke="#000" stroke-width="1.3"/>
<line x1="446.83" y1="508.75" x2="446.83" y2="496.98" stroke="#000" stroke-width="1.1"/>
<line x1="443.03" y1="496.98" x2="450.63" y2="496.98" stroke="#000" stroke-width="1.3"/>
<line x1="455.12" y1="513.58" x2="455.12" y2="503.74" stroke="#000" stroke-width="1.1"/>
<line x1="451.32" y1="503.74" x2="458.92" y2="503.74" stroke="#000" stroke-width="1.3"/>
<line x1="463.41" y1="511.26" x2="463.41" y2="501.81" stroke="#000" stroke-width="1.1"/>
<line x1="459.61" y1="501.81" x2="467.21" y2="501.81" stroke="#000" stroke-width="1.3"/>
<line x1="479.98" y1="507.21" x2="479.98" y2="500.26" stroke="#000" stroke-width="1.1"/>
<line x1="476.18" y1="500.26" x2="483.78" y2="500.26" stroke="#000" stroke-width="1.3"/>
<line x1="513.13" y1="521.69" x2="513.13" y2="510.11" stroke="#000" stroke-width="1.1"/>
<line x1="509.33" y1="510.11" x2="516.93" y2="510.11" stroke="#000" stroke-width="1.3"/>
<line x1="521.41" y1="529.40" x2="521.41" y2="517.83" stroke="#000" stroke-width="1.1"/>
<line x1="517.61" y1="517.83" x2="525.21" y2="517.83" stroke="#000" stroke-width="1.3"/>
<line x1="339.10" y1="470.15" x2="339.10" y2="459.73" stroke="#000" stroke-width="1.1"/>
<line x1="335.30" y1="459.73" x2="342.90" y2="459.73" stroke="#000" stroke-width="1.3"/>
<line x1="355.67" y1="528.05" x2="355.67" y2="522.26" stroke="#000" stroke-width="1.1"/>
<line x1="351.87" y1="522.26" x2="359.47" y2="522.26" stroke="#000" stroke-width="1.3"/>
<line x1="372.25" y1="510.11" x2="372.25" y2="501.42" stroke="#000" stroke-width="1.1"/>
<line x1="368.45" y1="501.42" x2="376.05" y2="501.42" stroke="#000" stroke-width="1.3"/>
<line x1="380.54" y1="507.21" x2="380.54" y2="498.14" stroke="#000" stroke-width="1.1"/>
<line x1="376.74" y1="498.14" x2="384.34" y2="498.14" stroke="#000" stroke-width="1.3"/>
<line x1="388.82" y1="508.95" x2="388.82" y2="496.79" stroke="#000" stroke-width="1.1"/>
<line x1="385.02" y1="496.79" x2="392.62" y2="496.79" stroke="#000" stroke-width="1.3"/>
<line x1="397.11" y1="522.65" x2="397.11" y2="513.77" stroke="#000" stroke-width="1.1"/>
<line x1="393.31" y1="513.77" x2="400.91" y2="513.77" stroke="#000" stroke-width="1.3"/>
<line x1="405.40" y1="530.18" x2="405.40" y2="513.77" stroke="#000" stroke-width="1.1"/>
<line x1="401.60" y1="513.77" x2="409.20" y2="513.77" stroke="#000" stroke-width="1.3"/>
<line x1="413.68" y1="526.70" x2="413.68" y2="516.28" stroke="#000" stroke-width="1.1"/>
<line x1="409.88" y1="516.28" x2="417.48" y2="516.28" stroke="#000" stroke-width="1.3"/>
<line x1="421.97" y1="517.25" x2="421.97" y2="506.05" stroke="#000" stroke-width="1.1"/>
<line x1="418.17" y1="506.05" x2="425.77" y2="506.05" stroke="#000" stroke-width="1.3"/>
<line x1="438.54" y1="527.28" x2="438.54" y2="511.65" stroke="#000" stroke-width="1.1"/>
<line x1="434.74" y1="511.65" x2="442.34" y2="511.65" stroke="#000" stroke-width="1.3"/>
<line x1="446.83" y1="525.74" x2="446.83" y2="518.60" stroke="#000" stroke-width="1.1"/>
<line x1="443.03" y1="518.60" x2="450.63" y2="518.60" stroke="#000" stroke-width="1.3"/>
<line x1="463.41" y1="530.18" x2="463.41" y2="523.62" stroke="#000" stroke-width="1.1"/>
<line x1="459.61" y1="523.62" x2="467.21" y2="523.62" stroke="#000" stroke-width="1.3"/>
<line x1="488.27" y1="524.39" x2="488.27" y2="514.93" stroke="#000" stroke-width="1.1"/>
<line x1="484.47" y1="514.93" x2="492.07" y2="514.93" stroke="#000" stroke-width="1.3"/>
<line x1="496.55" y1="518.40" x2="496.55" y2="511.26" stroke="#000" stroke-width="1.1"/>
<line x1="492.75" y1="511.26" x2="500.35" y2="511.26" stroke="#000" stroke-width="1.3"/>
<line x1="529.70" y1="527.28" x2="529.70" y2="516.47" stroke="#000" stroke-width="1.1"/>
<line x1="525.90" y1="516.47" x2="533.50" y2="516.47" stroke="#000" stroke-width="1.3"/>
<circle cx="339.10" cy="496.40" r="2.6" fill="#fff" stroke="#000" stroke-width="1.2"/>
<circle cx="347.39" cy="545.04" r="2.6" fill="#fff" stroke="#000" stroke-width="1.2"/>
<circle cx="355.67" cy="547.16" r="2.6" fill="#fff" stroke="#000" stroke-width="1.2"/>
<circle cx="363.96" cy="542.53" r="2.6" fill="#fff" stroke="#000" stroke-width="1.2"/>
<circle cx="372.25" cy="540.02" r="2.6" fill="#fff" stroke="#000" stroke-width="1.2"/>
<circle cx="380.54" cy="537.12" r="2.6" fill="#fff" stroke="#000" stroke-width="1.2"/>
<circle cx="388.82" cy="541.37" r="2.6" fill="#fff" stroke="#000" stroke-width="1.2"/>
<circle cx="397.11" cy="525.16" r="2.6" fill="#fff" stroke="#000" stroke-width="1.2"/>
<circle cx="405.40" cy="521.88" r="2.6" fill="#fff" stroke="#000" stroke-width="1.2"/>
<circle cx="413.68" cy="522.26" r="2.6" fill="#fff" stroke="#000" stroke-width="1.2"/>
<circle cx="421.97" cy="534.23" r="2.6" fill="#fff" stroke="#000" stroke-width="1.2"/>
<circle cx="430.26" cy="536.93" r="2.6" fill="#fff" stroke="#000" stroke-width="1.2"/>
<circle cx="438.54" cy="522.26" r="2.6" fill="#fff" stroke="#000" stroke-width="1.2"/>
<circle cx="446.83" cy="508.75" r="2.6" fill="#fff" stroke="#000" stroke-width="1.2"/>
<circle cx="455.12" cy="513.58" r="2.6" fill="#fff" stroke="#000" stroke-width="1.2"/>
<circle cx="463.41" cy="511.26" r="2.6" fill="#fff" stroke="#000" stroke-width="1.2"/>
<circle cx="471.69" cy="520.91" r="2.6" fill="#fff" stroke="#000" stroke-width="1.2"/>
<circle cx="479.98" cy="507.21" r="2.6" fill="#fff" stroke="#000" stroke-width="1.2"/>
<circle cx="488.27" cy="535.77" r="2.6" fill="#fff" stroke="#000" stroke-width="1.2"/>
<circle cx="496.55" cy="527.28" r="2.6" fill="#fff" stroke="#000" stroke-width="1.2"/>
<circle cx="504.84" cy="532.88" r="2.6" fill="#fff" stroke="#000" stroke-width="1.2"/>
<circle cx="513.13" cy="521.69" r="2.6" fill="#fff" stroke="#000" stroke-width="1.2"/>
<circle cx="521.41" cy="529.40" r="2.6" fill="#fff" stroke="#000" stroke-width="1.2"/>
<circle cx="529.70" cy="529.98" r="2.6" fill="#fff" stroke="#000" stroke-width="1.2"/>
<circle cx="339.10" cy="470.15" r="2.6" fill="#000" stroke="#000" stroke-width="1.2"/>
<circle cx="347.39" cy="541.37" r="2.6" fill="#000" stroke="#000" stroke-width="1.2"/>
<circle cx="355.67" cy="528.05" r="2.6" fill="#000" stroke="#000" stroke-width="1.2"/>
<circle cx="363.96" cy="531.34" r="2.6" fill="#000" stroke="#000" stroke-width="1.2"/>
<circle cx="372.25" cy="510.11" r="2.6" fill="#000" stroke="#000" stroke-width="1.2"/>
<circle cx="380.54" cy="507.21" r="2.6" fill="#000" stroke="#000" stroke-width="1.2"/>
<circle cx="388.82" cy="508.95" r="2.6" fill="#000" stroke="#000" stroke-width="1.2"/>
<circle cx="397.11" cy="522.65" r="2.6" fill="#000" stroke="#000" stroke-width="1.2"/>
<circle cx="405.40" cy="530.18" r="2.6" fill="#000" stroke="#000" stroke-width="1.2"/>
<circle cx="413.68" cy="526.70" r="2.6" fill="#000" stroke="#000" stroke-width="1.2"/>
<circle cx="421.97" cy="517.25" r="2.6" fill="#000" stroke="#000" stroke-width="1.2"/>
<circle cx="430.26" cy="536.93" r="2.6" fill="#000" stroke="#000" stroke-width="1.2"/>
<circle cx="438.54" cy="527.28" r="2.6" fill="#000" stroke="#000" stroke-width="1.2"/>
<circle cx="446.83" cy="525.74" r="2.6" fill="#000" stroke="#000" stroke-width="1.2"/>
<circle cx="455.12" cy="538.09" r="2.6" fill="#000" stroke="#000" stroke-width="1.2"/>
<circle cx="463.41" cy="530.18" r="2.6" fill="#000" stroke="#000" stroke-width="1.2"/>
<circle cx="471.69" cy="526.51" r="2.6" fill="#000" stroke="#000" stroke-width="1.2"/>
<circle cx="479.98" cy="523.62" r="2.6" fill="#000" stroke="#000" stroke-width="1.2"/>
<circle cx="488.27" cy="524.39" r="2.6" fill="#000" stroke="#000" stroke-width="1.2"/>
<circle cx="496.55" cy="518.40" r="2.6" fill="#000" stroke="#000" stroke-width="1.2"/>
<circle cx="504.84" cy="543.11" r="2.6" fill="#000" stroke="#000" stroke-width="1.2"/>
<circle cx="513.13" cy="540.99" r="2.6" fill="#000" stroke="#000" stroke-width="1.2"/>
<circle cx="521.41" cy="536.74" r="2.6" fill="#000" stroke="#000" stroke-width="1.2"/>
<circle cx="529.70" cy="527.28" r="2.6" fill="#000" stroke="#000" stroke-width="1.2"/>
<line x1="351.4" y1="426" x2="371.2" y2="426" stroke="#000" stroke-width="1.2"/>
<circle cx="361.5" cy="426" r="3.2" fill="#fff" stroke="#000" stroke-width="1.2"/>
<text x="375.8" y="429.6" font-family='"Liberation Sans", sans-serif' font-size="10" fill="#000">BS</text>
<line x1="351.4" y1="441.7" x2="371.2" y2="441.7" stroke="#000" stroke-width="1.2"/>
<circle cx="361.5" cy="441.7" r="3.2" fill="#000" stroke="#000" stroke-width="1.2"/>
<text x="375.8" y="445.3" font-family='"Liberation Sans", sans-serif' font-size="10" fill="#000">BC</text>
</svg>
</body></html>
